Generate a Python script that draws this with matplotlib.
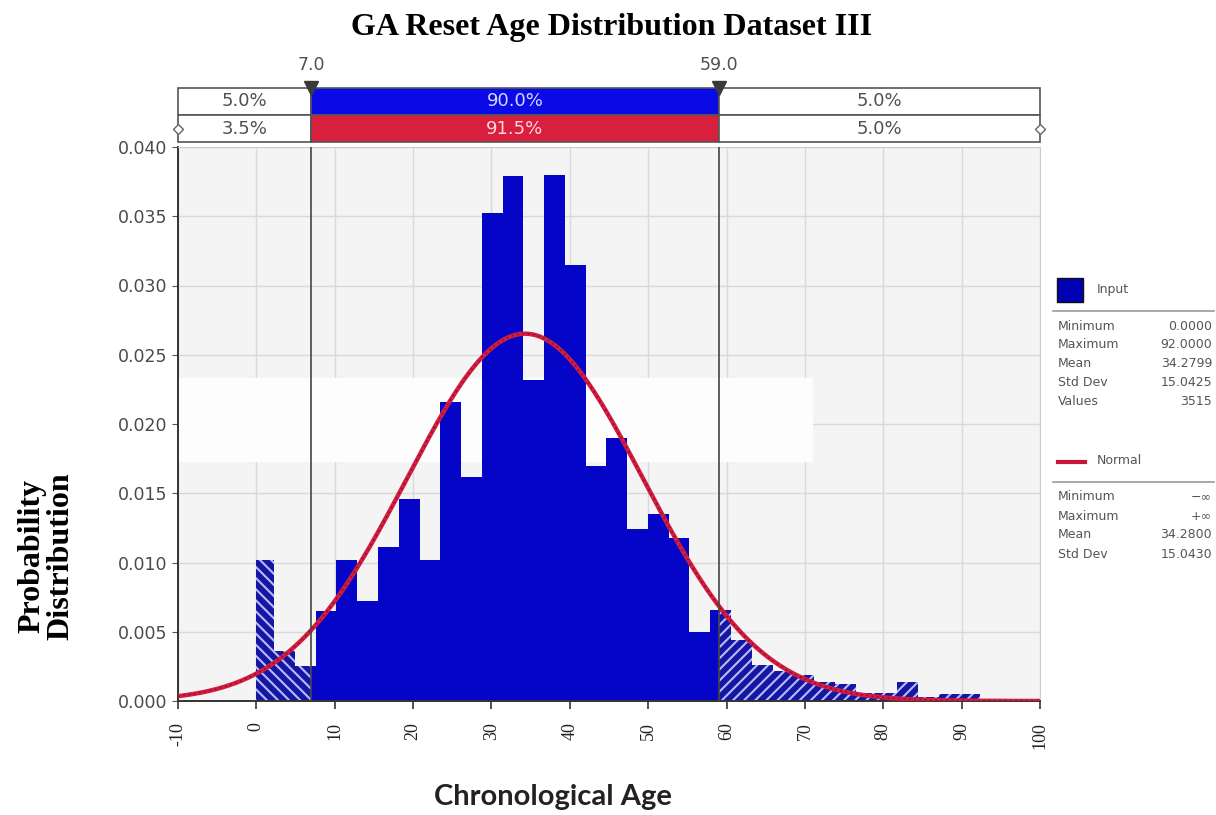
import numpy as np
import matplotlib
matplotlib.use("Agg")
import matplotlib.pyplot as plt
from matplotlib.patches import Rectangle
from matplotlib.lines import Line2D

# ---------------- data ----------------
bin_edges = [0.0, 2.27, 4.92, 7.57, 10.22, 12.87, 15.52, 18.17, 20.82, 23.47, 26.12,
             28.77, 31.42, 34.07, 36.72, 39.37, 42.02, 44.67, 47.32, 49.97, 52.62,
             55.27, 57.92, 60.57, 63.22, 65.87, 68.52, 71.17, 73.82, 76.47, 79.12,
             81.77, 84.42, 87.07, 89.72, 92.37]
densities = [0.0102, 0.0036, 0.0025, 0.0065, 0.0102, 0.0072, 0.0111, 0.0146, 0.0102,
             0.0216, 0.0162, 0.0352, 0.0379, 0.0232, 0.0380, 0.0315, 0.0170, 0.0190,
             0.0124, 0.0135, 0.0118, 0.0050, 0.0066, 0.0044, 0.0026, 0.0022, 0.0019,
             0.0014, 0.0012, 0.0006, 0.0006, 0.0014, 0.0003, 0.0005, 0.0005]
cut_low, cut_high = 7.0, 59.0
row1_pct = ["5.0%", "90.0%", "5.0%"]
row2_pct = ["3.5%", "91.5%", "5.0%"]
normal_mean, normal_sd = 34.28, 15.043

input_stats = [("Minimum", "0.0000"), ("Maximum", "92.0000"), ("Mean", "34.2799"),
               ("Std Dev", "15.0425"), ("Values", "3515")]
normal_stats = [("Minimum", "\u2212\u221e"), ("Maximum", "+\u221e"), ("Mean", "34.2800"),
                ("Std Dev", "15.0430")]

x_ticks = [-10, 0, 10, 20, 30, 40, 50, 60, 70, 80, 90, 100]
y_ticks = [0.000, 0.005, 0.010, 0.015, 0.020, 0.025, 0.030, 0.035, 0.040]
xmin, xmax = -10, 100

# ---------------- figure ----------------
W, H = 1216, 815
fig = plt.figure(figsize=(W / 100, H / 100), dpi=100)
fig.patch.set_facecolor("white")
plt.rcParams["hatch.linewidth"] = 1.5

def fx(px):
    return px / W

def fy(py):
    return 1 - py / H

ax_l, ax_r, ax_t, ax_b = 178, 1040, 147, 701
ax = fig.add_axes([fx(ax_l), fy(ax_b), (ax_r - ax_l) / W, (ax_b - ax_t) / H])
ax.set_xlim(xmin, xmax)
ax.set_ylim(0, 0.040)
ax.set_facecolor("#f4f4f4")
ax.set_xticks(x_ticks)
ax.set_yticks(y_ticks)
ax.grid(True, color="#d9d9d9", lw=1.0, zorder=0)
ax.set_axisbelow(True)

# whitened band (artifact in the reference)
ax.add_patch(Rectangle((xmin, 0.01726), 81, 0.0233 - 0.01726, facecolor="white",
                       edgecolor="none", alpha=0.9, zorder=1))

solid_col = "#0505c8"
tail_face = "#1616a0"
hatch_col = "#b4bcff"

for i, h in enumerate(densities):
    lo, hi = bin_edges[i], bin_edges[i + 1]
    pieces = []
    if lo < cut_low:
        pieces.append((lo, min(hi, cut_low), "left"))
    a, b = max(lo, cut_low), min(hi, cut_high)
    if b > a:
        pieces.append((a, b, "mid"))
    if hi > cut_high:
        pieces.append((max(lo, cut_high), hi, "right"))
    for a, b, kind in pieces:
        if kind == "mid":
            ax.bar(a, h, width=b - a, align="edge", color=solid_col, lw=0, zorder=2)
        else:
            ax.bar(a, h, width=b - a, align="edge", facecolor=tail_face,
                   edgecolor=hatch_col, lw=0,
                   hatch="\\\\\\" if kind == "left" else "///", zorder=2)

# normal curve
xs = np.linspace(xmin, xmax, 600)
pdf = np.exp(-0.5 * ((xs - normal_mean) / normal_sd) ** 2) / (normal_sd * np.sqrt(2 * np.pi))
ax.plot(xs, pdf, color="#d21c40", lw=3.2, zorder=3, solid_capstyle="butt")
ax.plot(xs, pdf, color="#8c0f2a", lw=1.2, ls=(0, (1, 2.2)), zorder=3.1)

# delimiters
for c in (cut_low, cut_high):
    ax.axvline(c, color="#454545", lw=1.2, zorder=4)

for s in ("left", "bottom"):
    ax.spines[s].set_color("#333333")
    ax.spines[s].set_linewidth(1.4)
for s in ("top", "right"):
    ax.spines[s].set_color("#cccccc")

ax.tick_params(axis="y", length=4, color="#555555", labelsize=12.5, labelcolor="#4a4a4a", pad=4)
ax.tick_params(axis="x", length=6, color="#333333", width=1.2, pad=9)
ax.set_yticklabels(["%.3f" % v for v in y_ticks], family="DejaVu Sans")
ax.set_xticklabels([str(v) for v in x_ticks], rotation=90, family="Liberation Serif",
                   fontsize=13, color="#222222", va="top")

# ---------------- top delimiter band ----------------
bt, bb = 88, 142
bax = fig.add_axes([fx(ax_l), fy(bb), (ax_r - ax_l) / W, (bb - bt) / H])
bax.set_xlim(xmin, xmax)
bax.set_ylim(0, 2)
bax.axis("off")
bounds = [xmin, cut_low, cut_high, xmax]
row_cols = [["white", "#0a0ae6", "white"], ["white", "#d81f3d", "white"]]
txt_cols = [["#505050", "#d6d6ff", "#505050"], ["#505050", "#ffd9dc", "#505050"]]
for r, (pcts, ybot) in enumerate([(row1_pct, 1), (row2_pct, 0)]):
    for k in range(3):
        bax.add_patch(Rectangle((bounds[k], ybot), bounds[k + 1] - bounds[k], 1,
                                facecolor=row_cols[r][k], edgecolor="#555555", lw=1.2,
                                clip_on=False))
        bax.text((bounds[k] + bounds[k + 1]) / 2, ybot + 0.5, pcts[k], ha="center",
                 va="center", fontsize=13, color=txt_cols[r][k], family="DejaVu Sans")
for xe in (xmin, xmax):
    bax.plot([xe], [0.5], marker="D", ms=5, mfc="white", mec="#666666", mew=1,
             clip_on=False, zorder=5)
for c in (cut_low, cut_high):
    bax.plot([c], [2.0], marker="v", ms=10, color="#3a3a3a", clip_on=False, zorder=6)
    bax.text(c, 2.5, "%.1f" % c, ha="center", va="bottom", fontsize=12.5,
             color="#505050", family="DejaVu Sans")

# ---------------- titles ----------------
fig.text(fx(612), fy(27), "GA Reset Age Distribution Dataset III", ha="center",
         va="center", fontsize=23, fontweight="bold", family="Liberation Serif")
fig.text(fx(46), fy(556), "Probability\nDistribution", ha="center", va="center",
         rotation=90, fontsize=23, fontweight="bold", family="Liberation Serif",
         linespacing=1.0)
fig.text(fx(553), fy(797), "Chronological Age", ha="center", va="center",
         fontsize=21, fontweight="bold", family="Lato", color="#222222")

# ---------------- legend panel ----------------
fig.add_artist(Rectangle((fx(1057), fy(302)), 26 / W, 24 / H, facecolor="#0000b4",
                         edgecolor="#111111", lw=1, transform=fig.transFigure))
fig.text(fx(1097), fy(290), "Input", ha="left", va="center", fontsize=9,
         color="#555555", family="DejaVu Sans")
fig.add_artist(Line2D([fx(1053), fx(1214)], [fy(311), fy(311)], color="#9a9a9a", lw=1.2,
                      transform=fig.transFigure))
for j, (lab, val) in enumerate(input_stats):
    yy = 326 + j * 18.8
    fig.text(fx(1058), fy(yy), lab, ha="left", va="center", fontsize=9,
             color="#555555", family="DejaVu Sans")
    fig.text(fx(1212), fy(yy), val, ha="right", va="center", fontsize=9,
             color="#555555", family="DejaVu Sans")

fig.add_artist(Line2D([fx(1058), fx(1085)], [fy(462), fy(462)], color="#c8173a", lw=3,
                      transform=fig.transFigure))
fig.text(fx(1097), fy(461), "Normal", ha="left", va="center", fontsize=9,
         color="#555555", family="DejaVu Sans")
fig.add_artist(Line2D([fx(1053), fx(1214)], [fy(482), fy(482)], color="#9a9a9a", lw=1.2,
                      transform=fig.transFigure))
for j, (lab, val) in enumerate(normal_stats):
    yy = 497 + j * 19
    fig.text(fx(1058), fy(yy), lab, ha="left", va="center", fontsize=9,
             color="#555555", family="DejaVu Sans")
    fig.text(fx(1212), fy(yy), val, ha="right", va="center", fontsize=9,
             color="#555555", family="DejaVu Sans")

fig.savefig("out.png", dpi=100)
